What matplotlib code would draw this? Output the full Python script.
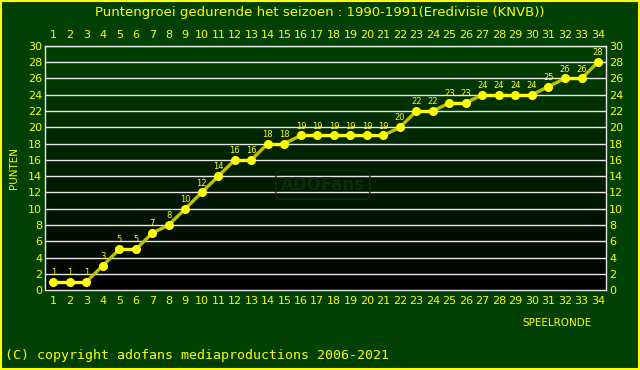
import numpy as np
import matplotlib
matplotlib.use("Agg")
import matplotlib.pyplot as plt

rondes = list(range(1, 35))
punten = [1, 1, 1, 3, 5, 5, 7, 8, 10, 12, 14, 16, 16, 18, 18, 19, 19, 19, 19, 19,
          19, 20, 22, 22, 23, 23, 24, 24, 24, 24, 25, 26, 26, 28]
y_ticks = list(range(0, 31, 2))

geel = "#ffff00"
groen = "#004000"

fig = plt.figure(figsize=(6.4, 3.7), dpi=100, facecolor=groen)
ax = fig.add_axes([0.0703, 0.216, 0.877, 0.66])

# achtergrond verloop: donkergroen boven, zwart onder
grad = np.linspace(0, 1, 256).reshape(-1, 1)
cmap = matplotlib.colors.LinearSegmentedColormap.from_list("g", ["#000000", "#004000"])
ax.imshow(grad, aspect="auto", cmap=cmap, extent=[0, 1, 0, 1], origin="lower",
          transform=ax.transAxes, zorder=0)

ax.set_xlim(0.5, 34.5)
ax.set_ylim(0, 30)
for y in y_ticks[1:]:
    ax.axhline(y, color="#e8e8e8", lw=1, zorder=1)

# vlakke stukken fel geel, stijgende stukken wat doffer
for i in range(len(rondes) - 1):
    kleur = geel if punten[i] == punten[i + 1] else "#c0c000"
    ax.plot(rondes[i:i + 2], punten[i:i + 2], color=kleur, lw=2.4, zorder=2,
            solid_capstyle="butt")
ax.plot(rondes, punten, "o", color=geel, ms=5.5, zorder=3)
for x, y in zip(rondes, punten):
    ax.text(x, y + 0.6, str(y), color=geel, fontsize=6, ha="center", va="bottom", zorder=4)

ax.set_xticks(rondes)
ax.set_yticks(y_ticks)
ax.tick_params(axis="x", length=0, colors=geel, labelsize=8, top=True, labeltop=True, pad=4)
ax.tick_params(axis="y", length=0, colors=geel, labelsize=8, right=True, labelright=True, pad=2)
for s in ax.spines.values():
    s.set_color("#e8e8e8")
    s.set_linewidth(1)

ax.text(0.495, 0.43, "ADOFans", transform=ax.transAxes, ha="center", va="center",
        fontsize=12, fontweight="bold", color="#102a10", zorder=1.5,
        bbox=dict(boxstyle="round,pad=0.3", fc="none", ec="#102a10", lw=1))

fig.text(0.5, 0.967, "Puntengroei gedurende het seizoen : 1990-1991(Eredivisie (KNVB))",
         color=geel, fontsize=9.5, ha="center", va="center")
fig.text(0.022, 0.545, "PUNTEN", color=geel, fontsize=7.5, rotation=90, ha="center", va="center")
fig.text(0.87, 0.127, "SPEELRONDE", color=geel, fontsize=7.5, ha="center", va="center")
fig.text(0.008, 0.04, "(C) copyright adofans mediaproductions 2006-2021", color=geel,
         fontsize=9.5, family="DejaVu Sans Mono", ha="left", va="center")

# gele rand
fig.patches.append(plt.Rectangle((0.001, 0.002), 0.997, 0.996, transform=fig.transFigure,
                                 fill=False, ec=geel, lw=1.5))

fig.savefig("out.png", dpi=100, facecolor=groen)
